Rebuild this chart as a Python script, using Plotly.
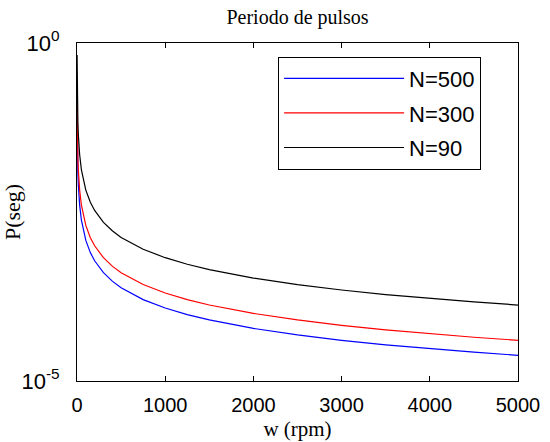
import plotly.graph_objects as go

# speed w (rpm)
w_rpm = [1, 2, 3, 5, 7, 10, 15, 20, 30, 50, 75, 100, 150, 200, 300, 400, 500,
         750, 1000, 1250, 1500, 2000, 2500, 3000, 3500, 4000, 4500, 5000]

# pulse period P (s)
p_n500 = [0.12, 0.06, 0.04, 0.024, 0.0171, 0.012, 0.008, 0.006, 0.004, 0.0024,
          0.0016, 0.0012, 0.0008, 0.0006, 0.0004, 0.0003, 0.00024, 0.00016,
          0.00012, 0.000096, 0.00008, 0.00006, 0.000048, 0.00004, 0.0000343,
          0.00003, 0.0000267, 0.000024]
p_n300 = [0.2, 0.1, 0.0667, 0.04, 0.0286, 0.02, 0.0133, 0.01, 0.00667, 0.004,
          0.00267, 0.002, 0.00133, 0.001, 0.000667, 0.0005, 0.0004, 0.000267,
          0.0002, 0.00016, 0.000133, 0.0001, 0.00008, 0.0000667, 0.0000571,
          0.00005, 0.0000444, 0.00004]
p_n90 = [0.667, 0.333, 0.222, 0.133, 0.0952, 0.0667, 0.0444, 0.0333, 0.0222,
         0.0133, 0.00889, 0.00667, 0.00444, 0.00333, 0.00222, 0.00167, 0.00133,
         0.000889, 0.000667, 0.000533, 0.000444, 0.000333, 0.000267, 0.000222,
         0.00019, 0.000167, 0.000148, 0.000133]

series_names = ["N=500", "N=300", "N=90"]
series_vals = [p_n500, p_n300, p_n90]
series_colors = ["#0000ff", "#ff0000", "#000000"]

x_ticks = [0, 1000, 2000, 3000, 4000, 5000]
y_tickvals = [1e-5, 1]
y_ticktext = ["10<sup>-5</sup>", "10<sup>0</sup>"]

fig = go.Figure()
for name, vals, col in zip(series_names, series_vals, series_colors):
    fig.add_trace(go.Scatter(x=w_rpm, y=vals, mode="lines", name=name,
                             legendgroup=name,
                             line=dict(color=col, width=1.2)))

fig.update_layout(
    width=550, height=442,
    margin=dict(l=77, r=32, t=43, b=61, autoexpand=False),
    paper_bgcolor="white", plot_bgcolor="white",
    title=dict(text="Periodo de pulsos", x=0.541, xanchor="center",
               y=0.962, yanchor="middle",
               font=dict(family="Liberation Serif, Times New Roman, serif",
                         size=20, color="black")),
    showlegend=True,
    legend=dict(x=0.456, y=0.96, xanchor="left", yanchor="top",
                bgcolor="white", bordercolor="black", borderwidth=1,
                font=dict(family="Liberation Sans, Arial, sans-serif",
                          size=22, color="black"),
                itemwidth=120, traceorder="grouped", tracegroupgap=3),
    xaxis=dict(range=[0, 5000], tickvals=x_ticks, automargin=False,
               ticks="inside", ticklen=5, tickcolor="black",
               showline=True, linecolor="black", linewidth=1, mirror="ticks",
               showgrid=False, zeroline=False, ticklabelstandoff=6,
               tickfont=dict(family="Liberation Sans, Arial, sans-serif",
                             size=20, color="black"),
               title=dict(text="w (rpm)", standoff=6,
                          font=dict(family="Liberation Serif, Times New Roman, serif",
                                    size=21, color="black"))),
    yaxis=dict(type="log", range=[-5, 0], tickvals=y_tickvals, automargin=False,
               ticktext=y_ticktext, ticks="",
               showline=True, linecolor="black", linewidth=1, mirror=True,
               showgrid=False, zeroline=False, ticklabelstandoff=12,
               tickfont=dict(family="Liberation Sans, Arial, sans-serif",
                             size=22, color="black"),
               title=dict(text="P(seg)", standoff=8,
                          font=dict(family="Liberation Serif, Times New Roman, serif",
                                    size=22, color="black"))),
)

fig.write_html("out.html")
